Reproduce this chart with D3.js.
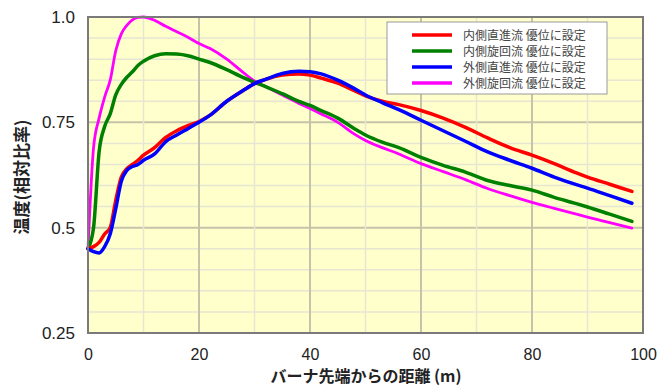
<!DOCTYPE html>
<html><head><meta charset="utf-8">
<script src="https://cdn.jsdelivr.net/npm/d3@7"></script>
<style>
html,body{margin:0;padding:0;background:#fff;}
svg{display:block;}
</style></head>
<body>
<svg id="chart" width="657" height="389"></svg>
<script>
const distance = [0,1,2,3,4,5,6,7,8,9,10,12,14,16,18,20,22,25,28,30,32,35,38,40,42,45,48,50,53,56,60,64,68,72,76,80,84,88,90,94,98];
const innerStraight = [0.45,0.455,0.465,0.485,0.50,0.565,0.62,0.64,0.65,0.66,0.672,0.69,0.714,0.73,0.742,0.752,0.767,0.80,0.826,0.842,0.852,0.862,0.865,0.862,0.855,0.843,0.825,0.813,0.80,0.792,0.778,0.76,0.738,0.713,0.69,0.672,0.652,0.63,0.62,0.603,0.586];
const innerSwirl = [0.45,0.50,0.68,0.74,0.77,0.815,0.84,0.857,0.87,0.885,0.895,0.908,0.913,0.912,0.908,0.90,0.892,0.875,0.856,0.845,0.835,0.818,0.80,0.79,0.778,0.76,0.735,0.72,0.703,0.69,0.667,0.648,0.632,0.612,0.60,0.589,0.572,0.557,0.549,0.532,0.515];
const outerStraight = [0.45,0.443,0.44,0.455,0.485,0.545,0.61,0.636,0.645,0.65,0.66,0.675,0.704,0.72,0.735,0.75,0.767,0.80,0.826,0.842,0.852,0.866,0.871,0.87,0.865,0.85,0.83,0.815,0.797,0.78,0.755,0.73,0.705,0.68,0.66,0.641,0.62,0.602,0.594,0.576,0.558];
const outerSwirl = [0.45,0.69,0.76,0.81,0.85,0.92,0.96,0.98,0.993,0.999,1.0,0.992,0.978,0.965,0.952,0.937,0.925,0.90,0.868,0.848,0.835,0.815,0.795,0.783,0.77,0.75,0.722,0.707,0.69,0.675,0.652,0.633,0.614,0.593,0.576,0.56,0.546,0.532,0.525,0.512,0.499];

const seriesNames = ["内側直進流 優位に設定","内側旋回流 優位に設定","外側直進流 優位に設定","外側旋回流 優位に設定"];
const seriesColors = ["#ff0000","#008000","#0000ff","#ff00ff"];
const seriesValues = [innerStraight, innerSwirl, outerStraight, outerSwirl];

const xTicks = [0,20,40,60,80,100];
const yTicks = [0.25,0.5,0.75,1.0];
const yTickLabels = ["0.25","0.5","0.75","1.0"];
const xTitle = "バーナ先端からの距離 (m)";
const yTitle = "温度(相対比率)";

const svg = d3.select("#chart");
const L = 88, R = 643, T = 17, B = 333;
const x = d3.scaleLinear().domain([0,100]).range([L,R]);
const y = d3.scaleLinear().domain([0.25,1.0]).range([B,T]);

svg.append("rect").attr("x",L).attr("y",T).attr("width",R-L).attr("height",B-T).attr("fill","#ffffcc");

// grid
const g = svg.append("g");
d3.range(0.30,1.0,0.05).forEach(v=>{
  const major = Math.abs((v/0.25)-Math.round(v/0.25))<1e-6;
  g.append("line").attr("x1",L).attr("x2",R).attr("y1",y(v)).attr("y2",y(v))
   .attr("stroke",major?"#c4c4aa":"#e6e6d2").attr("stroke-width",major?2:1.5);
});
d3.range(10,100,10).forEach(v=>{
  const major = v%20===0;
  g.append("line").attr("y1",T).attr("y2",B).attr("x1",x(v)).attr("x2",x(v))
   .attr("stroke",major?"#c4c4aa":"#e6e6d2").attr("stroke-width",major?2:1.5);
});

// lines
const line = d3.line().x((d,i)=>x(distance[i])).y(d=>y(d)).curve(d3.curveMonotoneX);
const order = [3,1,0,2];
const widths = [3.5,3.5,3.5,2.8];
order.forEach(i=>{
  svg.append("path").datum(seriesValues[i]).attr("d",line)
    .attr("fill","none").attr("stroke",seriesColors[i]).attr("stroke-width",widths[i])
    .attr("stroke-linejoin","round").attr("stroke-linecap","round");
});

// frame
svg.append("rect").attr("x",L).attr("y",T).attr("width",R-L).attr("height",B-T)
  .attr("fill","none").attr("stroke","#7a7a7a").attr("stroke-width",2);

// axes
const xa = svg.append("g").attr("transform",`translate(0,${B})`)
  .call(d3.axisBottom(x).tickValues(xTicks).tickSize(0).tickPadding(16).tickFormat(d3.format("d")));
xa.select(".domain").remove();
xa.selectAll("text").attr("font-family","Liberation Sans, Arial, sans-serif").attr("font-size",16).attr("fill","#222");

const ya = svg.append("g").attr("transform",`translate(${L},0)`)
  .call(d3.axisLeft(y).tickValues(yTicks).tickSize(0).tickPadding(13).tickFormat((d,i)=>yTickLabels[i]));
ya.select(".domain").remove();
ya.selectAll("text").attr("font-family","Liberation Sans, Arial, sans-serif").attr("font-size",17).attr("fill","#222");

svg.append("text").attr("x",366).attr("y",382).attr("text-anchor","middle")
  .attr("font-family","Noto Sans CJK JP, sans-serif").attr("font-weight","bold").attr("font-size",16).attr("fill","#222")
  .text(xTitle);
svg.append("text").attr("transform","translate(28,177) rotate(-90)").attr("text-anchor","middle")
  .attr("font-family","Noto Sans CJK JP, sans-serif").attr("font-weight","bold").attr("font-size",17).attr("fill","#222")
  .text(yTitle);

// legend
const lg = svg.append("g");
lg.append("rect").attr("x",387).attr("y",22).attr("width",220).attr("height",72)
  .attr("fill","#fff").attr("stroke","#9a9a9a").attr("stroke-width",1);
seriesNames.forEach((n,i)=>{
  const yy = 35 + i*16;
  lg.append("line").attr("x1",412).attr("x2",452).attr("y1",yy).attr("y2",yy)
    .attr("stroke",seriesColors[i]).attr("stroke-width",3.5);
  lg.append("text").attr("x",463).attr("y",yy+4.5).attr("font-family","Noto Sans CJK JP, sans-serif")
    .attr("font-size",12).attr("fill","#444").text(n);
});
</script>
</body></html>
